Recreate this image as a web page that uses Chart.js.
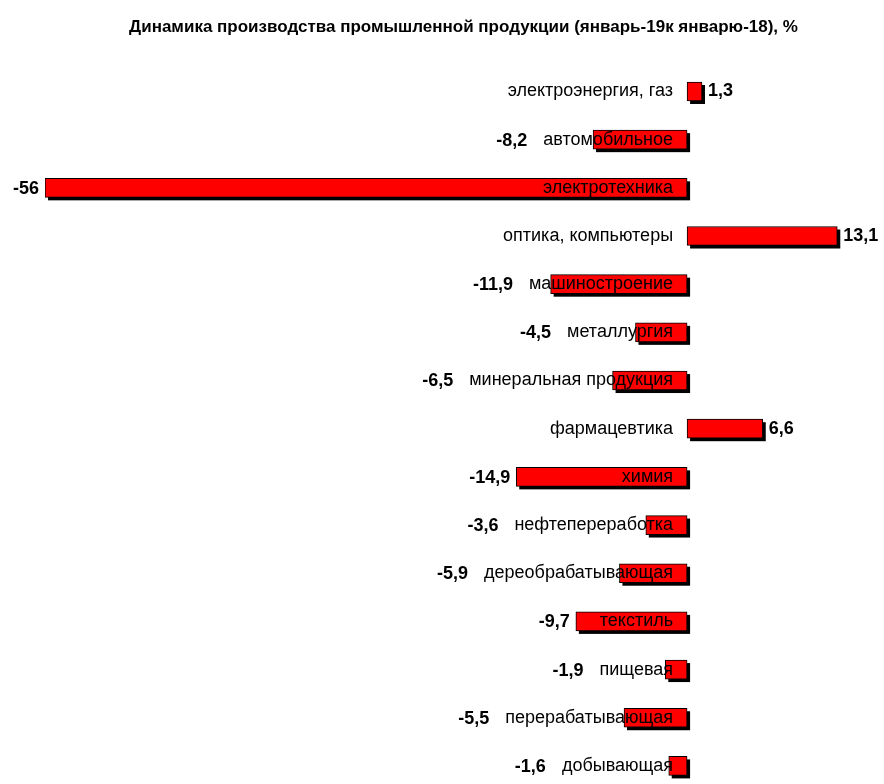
<!DOCTYPE html>
<html lang="ru">
<head>
<meta charset="utf-8">
<title>Динамика производства</title>
<script src="https://cdn.jsdelivr.net/npm/chart.js@4/dist/chart.umd.min.js"></script>
<style>
  html, body { margin: 0; padding: 0; background: #fff; overflow: hidden; }
  #wrap { width: 884px; height: 784px; overflow: hidden; }
</style>
</head>
<body>
<div id="wrap"><canvas id="chart" width="884" height="800"></canvas></div>
<script>
// Data
const titleText = 'Динамика производства промышленной продукции (январь-19к январю-18), %';
const categories = [
  'электроэнергия, газ', 'автомобильное', 'электротехника', 'оптика, компьютеры',
  'машиностроение', 'металлургия', 'минеральная продукция', 'фармацевтика',
  'химия', 'нефтепереработка', 'дереобрабатывающая', 'текстиль',
  'пищевая', 'перерабатывающая', 'добывающая'
];
const values = [1.3, -8.2, -56, 13.1, -11.9, -4.5, -6.5, 6.6, -14.9, -3.6, -5.9, -9.7, -1.9, -5.5, -1.6];

const FONT = "'Liberation Sans', Arial, sans-serif";

// Format a number with a comma as decimal separator
function fmt(v) {
  return String(v).replace('.', ',');
}

// Black offset shadow drawn behind each bar
const shadowPlugin = {
  id: 'barShadow',
  beforeDatasetsDraw(chart) {
    const ctx = chart.ctx;
    const meta = chart.getDatasetMeta(0);
    ctx.save();
    ctx.fillStyle = '#000';
    meta.data.forEach(bar => {
      const p = bar.getProps(['x', 'y', 'base', 'height'], true);
      const left = Math.min(p.x, p.base);
      const w = Math.abs(p.x - p.base);
      ctx.fillRect(left + 3, p.y - p.height / 2 + 3, w, p.height);
    });
    ctx.restore();
  }
};

// Category names at the zero line and value labels next to bars
const labelPlugin = {
  id: 'barLabels',
  afterDatasetsDraw(chart) {
    const ctx = chart.ctx;
    const meta = chart.getDatasetMeta(0);
    const zero = chart.scales.x.getPixelForValue(0);
    const nameRight = zero - 14;
    ctx.save();
    ctx.fillStyle = '#000';
    ctx.textBaseline = 'middle';
    meta.data.forEach((bar, i) => {
      const y = bar.y;
      // category name
      ctx.font = '18px ' + FONT;
      ctx.textAlign = 'right';
      ctx.fillText(categories[i], nameRight, y);
      const nameLeft = nameRight - ctx.measureText(categories[i]).width;
      // value
      ctx.font = 'bold 18px ' + FONT;
      const v = values[i];
      if (v >= 0) {
        ctx.textAlign = 'left';
        ctx.fillText(fmt(v), bar.x + 6, y);
      } else {
        ctx.textAlign = 'right';
        const x = nameLeft < bar.x ? nameLeft - 16 : bar.x - 6;
        ctx.fillText(fmt(v), x, y + 1);
      }
    });
    ctx.restore();
  }
};

const ctx = document.getElementById('chart').getContext('2d');
new Chart(ctx, {
  type: 'bar',
  data: {
    labels: categories,
    datasets: [{
      data: values,
      backgroundColor: '#ff0000',
      borderColor: '#000',
      borderWidth: 1,
      borderSkipped: false,
      barThickness: 19
    }]
  },
  options: {
    responsive: false,
    animation: false,
    indexAxis: 'y',
    layout: { padding: { left: 45, right: 2, top: 0, bottom: 10 } },
    scales: {
      x: { display: false, min: -56, max: 17, grid: { display: false } },
      y: { display: false, grid: { display: false } }
    },
    plugins: {
      legend: { display: false },
      tooltip: { enabled: false },
      title: {
        display: true,
        text: titleText,
        color: '#000',
        font: { family: FONT, size: 17, weight: 'bold' },
        padding: { top: 17, bottom: 30 }
      }
    }
  },
  plugins: [shadowPlugin, labelPlugin]
});
</script>
</body>
</html>
